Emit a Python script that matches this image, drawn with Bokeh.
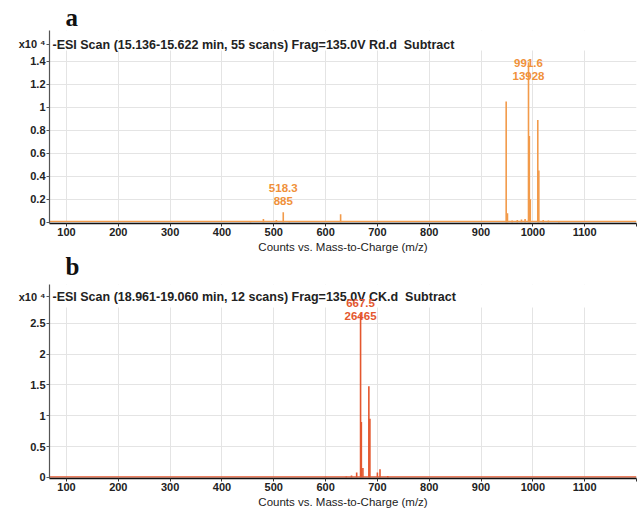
from bokeh.plotting import figure
from bokeh.layouts import column
from bokeh.models import Label, BoxAnnotation, FixedTicker, Range1d, Title
from bokeh.embed import file_html
from bokeh.resources import INLINE

# ---------------- data ----------------
x_ticks = [100, 200, 300, 400, 500, 600, 700, 800, 900, 1000, 1100, 1200]
x_tick_labels = ["100", "200", "300", "400", "500", "600", "700", "800",
                 "900", "1000", "1100", ""]
x_label = "Counts vs. Mass-to-Charge (m/z)"
multiplier = "x10 \u2074"

a_title = "-ESI Scan (15.136-15.622 min, 55 scans) Frag=135.0V Rd.d\u00a0\u00a0Subtract"
a_mz = [455, 480, 505, 518.3, 530, 629, 948.5, 951, 960, 970, 978, 985,
        991.6, 993.2, 995, 1009.5, 1011.5, 1020, 1030, 1050]
a_counts = [120, 300, 200, 885, 100, 700, 10500, 800, 150, 200, 250, 300,
            13928, 7500, 2000, 8900, 4500, 200, 150, 100]
a_yticks = [0, 0.2, 0.4, 0.6, 0.8, 1.0, 1.2, 1.4]
a_notes = [(518.3, 885), (991.6, 13928)]

b_title = "-ESI Scan (18.961-19.060 min, 12 scans) Frag=135.0V CK.d\u00a0\u00a0Subtract"
b_mz = [600, 640, 650, 660, 667.5, 669, 672, 683.5, 685.5, 700, 705, 720]
b_counts = [80, 150, 300, 800, 26465, 9000, 1500, 14800, 9500, 800, 1300, 200]
b_yticks = [0, 0.5, 1.0, 1.5, 2.0, 2.5]
b_notes = [(667.5, 26465)]

baseline_mz = [67, 1200]
baseline_counts = [90, 90]

SCALE = 1e4
X0, X1 = 67.2, 1200
FONT = "Liberation Sans"


def letter_title(text, standoff):
    return Title(text=text, align="left", offset=16, standoff=standoff,
                 text_font="Liberation Serif", text_font_style="bold",
                 text_font_size="25px", text_color="#111111")


def panel(title, mz, counts, yticks, ymax, height, top, bottom,
          color, note_color, notes, note_dy, title_dy, grid_gap):
    ymin = -0.006 * ymax
    p = figure(width=642, height=height, output_backend="svg",
               toolbar_location=None, x_range=Range1d(X0, X1),
               y_range=Range1d(ymin, ymax), min_border_left=49,
               min_border_right=6, min_border_top=top,
               min_border_bottom=bottom, title=None)
    p.outline_line_color = None
    p.background_fill_color = "white"
    p.border_fill_color = "white"
    fh = height - top - bottom
    ppu = fh / (ymax - ymin)  # approx pixels per y unit

    for ax in (p.xaxis[0], p.yaxis[0]):
        ax.major_tick_out = 3
        ax.major_tick_in = 0
        ax.minor_tick_out = 0
        ax.minor_tick_in = 0
        ax.major_label_standoff = 1
        ax.major_label_text_font = FONT
        ax.major_label_text_font_style = "bold"
        ax.major_label_text_font_size = "11px"
        ax.major_label_text_color = "#222222"
    p.xaxis.ticker = FixedTicker(ticks=x_ticks)
    p.xaxis.major_label_overrides = dict(zip(x_ticks, x_tick_labels))
    p.add_layout(Title(text=x_label, align="center", standoff=0,
                       text_font=FONT, text_font_style="normal",
                       text_font_size="11.5px", text_color="#222222"),
                 "below")

    # multiplier shown as an extra labelled tick at the top of the y axis
    mult_tick = round(ymax - title_dy / ppu, 4)
    p.yaxis.ticker = FixedTicker(ticks=yticks + [mult_tick])
    overrides = {t: ("%g" % t) for t in yticks}
    overrides[mult_tick] = multiplier
    p.yaxis.major_label_overrides = overrides
    p.ygrid.ticker = FixedTicker(ticks=yticks)
    p.xgrid.ticker = FixedTicker(ticks=x_ticks)

    p.xaxis.axis_line_color = "#111111"
    p.xaxis.axis_line_width = 1.5
    p.yaxis.axis_line_color = "#555555"
    p.yaxis.axis_line_width = 1.2
    p.xaxis.major_tick_line_color = "#333333"
    p.yaxis.major_tick_line_color = "#555555"
    p.xgrid.grid_line_color = "#e4e4e4"
    p.ygrid.grid_line_color = "#e4e4e4"

    # white band at top (grid starts below the scan title)
    p.add_layout(BoxAnnotation(bottom=ymax - grid_gap / ppu, top=ymax,
                               fill_color="white", fill_alpha=1,
                               line_color=None, level="underlay"))

    ys = [c / SCALE for c in counts]
    p.line(baseline_mz, [c / SCALE for c in baseline_counts],
           line_color=color, line_width=1.2)
    p.segment(x0=mz, y0=[0] * len(mz), x1=mz, y1=ys,
              line_color=color, line_width=1.6)

    # scan title inside the top of the frame
    p.add_layout(Label(x=X0, y=ymax, x_offset=3, y_offset=-title_dy, text=title,
                       text_align="left", text_baseline="middle",
                       text_font=FONT, text_font_style="bold",
                       text_font_size="12.5px", text_color="#222222"))

    for (m, c), dy in zip(notes, note_dy):
        y = c / SCALE
        p.add_layout(Label(x=m, y=y, y_offset=dy, text="%d" % c,
                           text_align="center", text_baseline="middle",
                           text_font=FONT, text_font_style="bold",
                           text_font_size="11.5px", text_color=note_color))
        p.add_layout(Label(x=m, y=y, y_offset=dy + 13, text="%g" % m,
                           text_align="center", text_baseline="middle",
                           text_font=FONT, text_font_style="bold",
                           text_font_size="11.5px", text_color=note_color))
    return p


# panel a: letter "a" above, letter "b" placed in its bottom border
fa = panel(a_title, a_mz, a_counts, a_yticks, 1.668, 283, 30, 60,
           "#F29A4A", "#F0913A", a_notes, [11, -14], 14, 20)
fa.add_layout(letter_title("a", 0), "above")
fa.add_layout(letter_title("b", -4), "below")

fb = panel(b_title, b_mz, b_counts, b_yticks, 3.13, 225, 1, 30,
           "#E4572E", "#E4572E", b_notes, [-2], 12, 23)

layout = column(fa, fb, spacing=0)
open("out.html", "w").write(file_html(layout, INLINE))
